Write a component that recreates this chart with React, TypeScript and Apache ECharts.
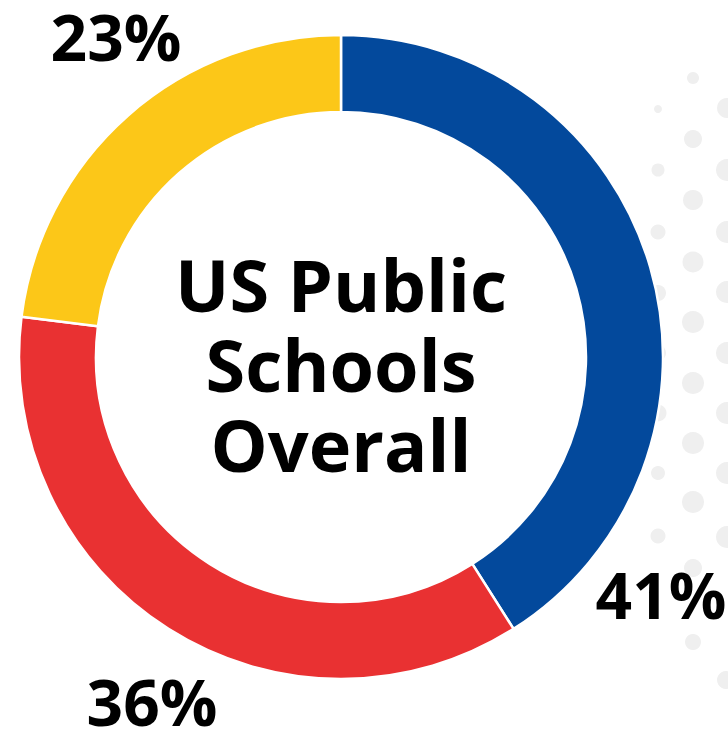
import React, { useEffect, useRef } from "react";
import * as echarts from "echarts";

const categories = ["Blue group", "Red group", "Yellow group"];
const values = [41, 36, 23];
const colors = ["#03499C", "#E93132", "#FCC718"];
const centerTitle = "US Public\nSchools\nOverall";

// decorative dot pattern (x, y, r)
const dots: [number, number, number][] = [
  [658, 109, 4], [658, 170, 6.5], [658, 232, 7.5], [658, 293, 8], [658, 353, 8],
  [658, 413, 8.5], [658, 473, 7], [658, 536, 7.5],
  [693, 78, 6], [693, 139, 9], [693, 200, 10], [693, 262, 10.5], [693, 322, 11],
  [693, 383, 11], [693, 443, 11], [693, 502, 11], [693, 568, 9], [693, 642, 8],
  [727, 108, 10], [727, 170, 11], [727, 232, 11], [727, 292, 11], [727, 353, 11],
  [727, 413, 11], [727, 473, 11], [727, 537, 11], [726, 680, 9],
];

const labelPos: [number, number][] = [
  [661, 594],
  [152, 701],
  [116, 36],
];

export default function App() {
  const ref = useRef<HTMLDivElement>(null);
  useEffect(() => {
    if (!ref.current) return;
    const chart = echarts.init(ref.current, null, { renderer: "svg" });
    chart.setOption({
      animation: false,
      backgroundColor: "#ffffff",
      graphic: [
        ...dots.map(([x, y, r]) => ({
          type: "circle",
          z: -10,
          shape: { cx: x, cy: y, r },
          style: { fill: "#EFEFEF" },
          silent: true,
        })),
        {
          type: "text",
          z: 100,
          x: 341,
          y: 364,
          style: {
            text: centerTitle,
            font: "bold 72px 'Open Sans'",
            fill: "#000000",
            align: "center",
            verticalAlign: "middle",
            lineHeight: 80,
          },
        },
      ],
      series: [
        {
          type: "pie",
          center: [341, 357],
          radius: [245, 322],
          startAngle: 90,
          clockwise: true,
          avoidLabelOverlap: false,
          itemStyle: { borderColor: "#ffffff", borderWidth: 2.5 },
          label: {
            show: true,
            position: "outside",
            formatter: "{c}%",
            fontFamily: "Open Sans",
            fontWeight: "bold",
            fontSize: 64,
            lineHeight: 50,
            color: "#000000",
          },
          labelLine: { show: false },
          labelLayout: (params: any) => {
            const p = labelPos[params.dataIndex];
            return { x: p[0], y: p[1], align: "center", verticalAlign: "middle" };
          },
          data: categories.map((name, i) => ({
            name,
            value: values[i],
            itemStyle: { color: colors[i] },
          })),
        },
      ],
    });
    return () => chart.dispose();
  }, []);
  return (
    <div
      ref={ref}
      style={{ position: "absolute", left: 0, top: 0, width: 728, height: 731 }}
    />
  );
}
